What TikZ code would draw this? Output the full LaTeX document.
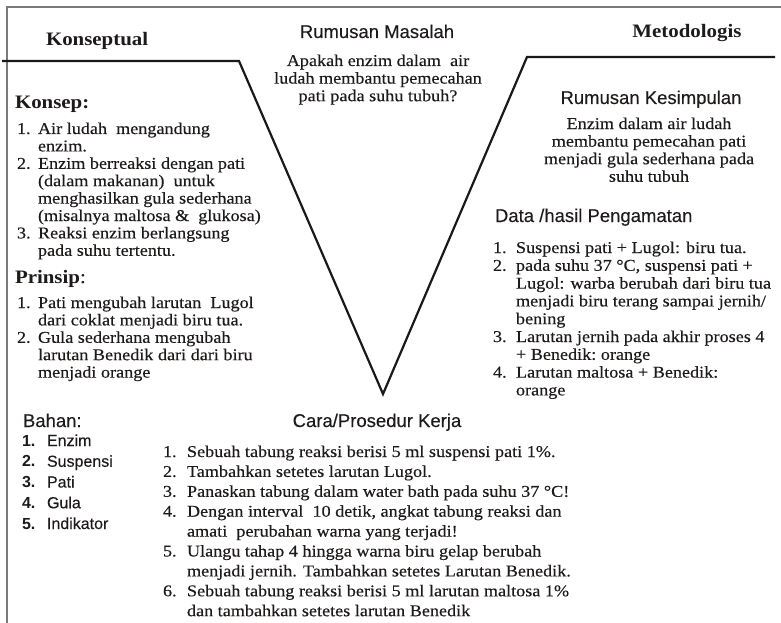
\documentclass[tikz,border=0pt]{standalone}
\usepackage{fontspec}
\setmainfont{Liberation Serif}[FakeStretch=1.1, UprightFeatures={FakeBold=0.3}]
\setsansfont{Liberation Sans}[UprightFeatures={FakeBold=0.25}]
\usepackage{array}
\definecolor{ink}{HTML}{1E1A1A}
\definecolor{framegray}{HTML}{7A7A7A}
\begin{document}
\begin{tikzpicture}[x=1pt,y=-1pt,
  vline/.style={line width=2.2pt, black!90, line join=miter},
  framel/.style={line width=1.8pt, framegray},
  base/.style={inner sep=0pt, outer sep=0pt, text=ink},
  shead/.style={base, font=\sffamily\fontsize{18.5}{20}\selectfont},
  bhead/.style={base, font=\bfseries\fontsize{19}{22}\selectfont},
  body/.style={base, font=\fontsize{16.5}{17.4}\selectfont},
  bodyc/.style={base, align=center, font=\fontsize{16.5}{17.6}\selectfont},
]
\useasboundingbox (0,0) rectangle (781,623);
% frame
\draw[framel] (7,623) -- (7,7) -- (781,7);
% V shape
\coordinate (l0) at (2,61);
\coordinate (l1) at (239,61);
\coordinate (vtx) at (383,394);
\coordinate (r1) at (527,57);
\coordinate (r0) at (775,57);
\draw[vline] (l0) -- (l1) -- (vtx) -- (r1) -- (r0);

% headings
\node[bhead, anchor=base west] (konseptual) at (46,46) {Konseptual};
\node[bhead, anchor=base] (metodologis) at (687,38) {Metodologis};
\node[shead, anchor=base] (masalah) at (377,38) {Rumusan Masalah};
\node[bodyc, anchor=base] (question) at (378,66) {\begin{tabular}[t]{@{}c@{}}Apakah enzim dalam\ \ air\\ ludah membantu pemecahan\\ pati pada suhu tubuh?\end{tabular}};

% Konsep
\node[bhead, anchor=base west] (konsep) at (15,109) {Konsep:};
\node[body, anchor=base west] (konseplist) at (17,134) {\begin{tabular}[t]{@{}p{21pt}@{}l@{}}
1.& Air ludah\ \ mengandung\\
  & enzim.\\
2.& Enzim berreaksi dengan pati\\
  & (dalam makanan)\ \ untuk\\
  & menghasilkan gula sederhana\\
  & (misalnya maltosa \&\ \ glukosa)\\
3.& Reaksi enzim berlangsung\\
  & pada suhu tertentu.
\end{tabular}};

% Prinsip
\node[bhead, anchor=base west] (prinsip) at (15,283) {Prinsip\textmd{:}};
\node[body, anchor=base west] (prinsiplist) at (17,308) {\begin{tabular}[t]{@{}p{21pt}@{}l@{}}
1.& Pati mengubah larutan\ \ Lugol\\
  & dari coklat menjadi biru tua.\\
2.& Gula sederhana mengubah\\
  & larutan Benedik dari dari biru\\
  & menjadi orange
\end{tabular}};

% Bahan
\node[shead, anchor=base west] (bahan) at (23,427) {Bahan:};
\node[base, anchor=base west, font=\sffamily\fontsize{16}{20.75}\selectfont] (bahanlist) at (22,446) {\begin{tabular}[t]{@{}p{25pt}@{}l@{}}
\textbf{1.}& Enzim\\
\textbf{2.}& Suspensi\\
\textbf{3.}& Pati\\
\textbf{4.}& Gula\\
\textbf{5.}& Indikator
\end{tabular}};

% Kesimpulan
\node[shead, anchor=base] (kesimpulan) at (651,104) {Rumusan Kesimpulan};
\node[bodyc, anchor=base] (kesimpulantxt) at (649,129) {\begin{tabular}[t]{@{}c@{}}Enzim dalam air ludah\\ membantu pemecahan pati\\ menjadi gula sederhana pada\\ suhu tubuh\end{tabular}};

% Data
\node[shead, anchor=base west] (data) at (495,222) {Data /hasil Pengamatan};
\node[base, anchor=base west, font=\fontsize{16.5}{17.8}\selectfont] (datalist) at (493,253) {\begin{tabular}[t]{@{}p{23pt}@{}l@{}}
1.& Suspensi pati + Lugol: biru tua.\\
2.& pada suhu 37 °C, suspensi pati +\\
  & Lugol: warba berubah dari biru tua\\
  & menjadi biru terang sampai jernih/\\
  & bening\\
3.& Larutan jernih pada akhir proses 4\\
  & + Benedik:\ orange\\
4.& Larutan maltosa + Benedik:\\
  & orange
\end{tabular}};

% Prosedur
\node[shead, anchor=base] (cara) at (377,427) {Cara/Prosedur Kerja};
\node[base, anchor=base west, font=\fontsize{16.5}{19.9}\selectfont] (caralist) at (163,457) {\begin{tabular}[t]{@{}p{24pt}@{}l@{}}
1.& Sebuah tabung reaksi berisi 5 ml suspensi pati 1\%.\\
2.& Tambahkan setetes larutan Lugol.\\
3.& Panaskan tabung dalam water bath pada suhu 37 °C!\\
4.& Dengan interval\ \ 10 detik, angkat tabung reaksi dan\\
  & amati\ \ perubahan warna yang terjadi!\\
5.& Ulangu tahap 4 hingga warna biru gelap berubah\\
  & menjadi jernih. Tambahkan setetes Larutan Benedik.\\
6.& Sebuah tabung reaksi berisi 5 ml larutan maltosa 1\%\\
  & dan tambahkan setetes larutan Benedik
\end{tabular}};
\end{tikzpicture}
\end{document}
